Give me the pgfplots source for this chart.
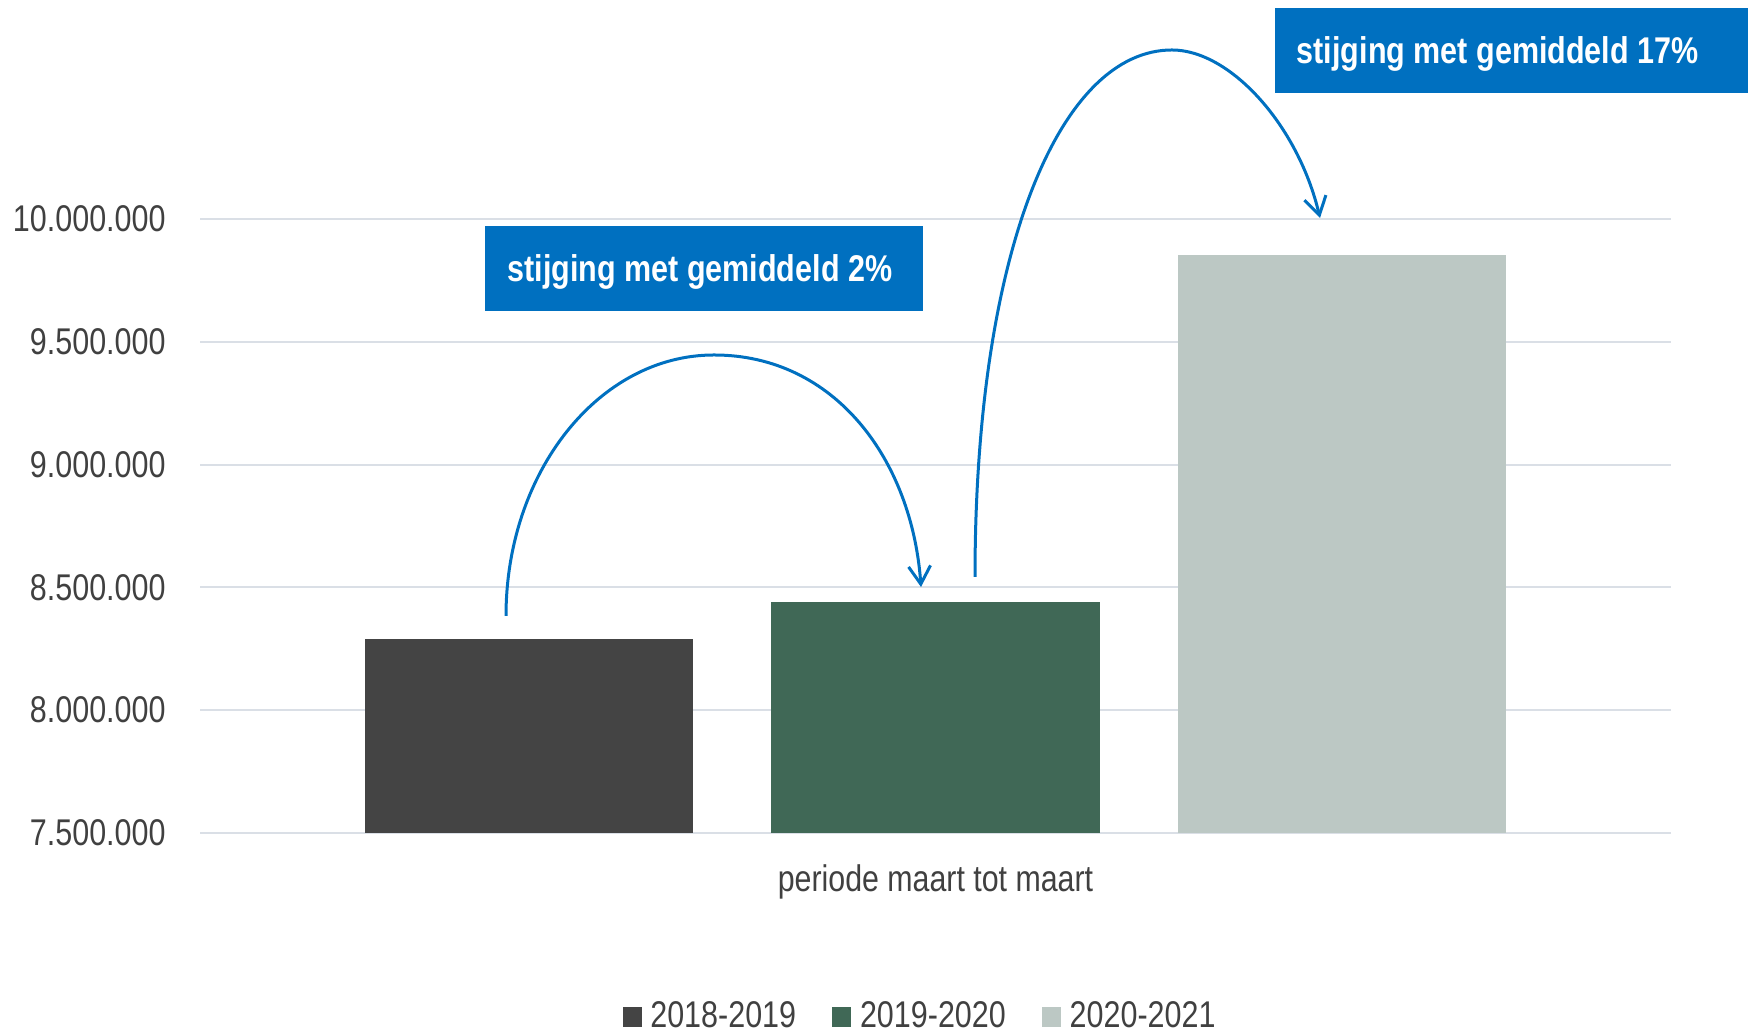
\documentclass[border=0pt]{standalone}
\usepackage{fontspec}
\setmainfont{Liberation Sans}[FakeStretch=0.82]
\usepackage{pgfplots}
\pgfplotsset{compat=1.18}
\usetikzlibrary{arrows.meta}
\definecolor{barA}{RGB}{68,68,68}
\definecolor{barB}{RGB}{64,104,86}
\definecolor{barC}{RGB}{188,200,196}
\definecolor{gridc}{RGB}{218,223,230}
\definecolor{txt}{RGB}{64,64,64}
\definecolor{boxblue}{RGB}{0,112,192}
\begin{document}
\begin{tikzpicture}
\useasboundingbox (-50pt,-50.325pt) rectangle (390.5pt,208.175pt);
\begin{axis}[
  at={(0,0)}, anchor=south west,
  width=367.75pt, height=153.4pt, scale only axis,
  xmin=-1.808, xmax=1.808, ymin=7500000, ymax=10000000,
  scaled y ticks=false,
  ybar, bar width=0.807, bar shift=0pt,
  axis line style={draw=none},
  major tick length=0pt,
  ymajorgrids, grid style={gridc, line width=0.5pt},
  ytick={7500000,8000000,8500000,9000000,9500000,10000000},
  yticklabels={7.500.000,8.000.000,8.500.000,9.000.000,9.500.000,10.000.000},
  yticklabel style={font=\fontsize{9.3}{11}\selectfont, text=txt, inner sep=0pt, anchor=east, xshift=-8.4pt},
  xtick={0}, xticklabels={periode maart tot maart},
  xticklabel style={font=\fontsize{9.25}{11}\selectfont, text=txt, inner sep=0pt, anchor=base, yshift=-14.8pt},
  legend columns=3,
  legend style={draw=none, fill=none, at={(0.4888,-0.3004)}, anchor=center,
    font=\fontsize{9.3}{11}\selectfont, text=txt,
    nodes={inner sep=0pt},
    column sep=2.2pt,
    /tikz/every even column/.append style={column sep=9pt}},
  legend image code/.code={\fill[#1,draw=none] (0pt,-2.4pt) rectangle (4.75pt,2.4pt);},
]
\addplot[fill=barA, draw=none] coordinates {(-1,8290000)};
\addplot[fill=barB, draw=none] coordinates {(0,8440000)};
\addplot[fill=barC, draw=none] coordinates {(1,9855000)};
\legend{2018-2019,2019-2020,2020-2021}
\end{axis}
\begin{scope}[shift={(-50pt,208.175pt)}, x=0.25pt, y=-0.25pt]
  \draw[boxblue, line width=0.75pt, -{Straight Barb[length=4.5pt,width=5.5pt]}]
    (506,616) .. controls (506,472) and (599,355) .. (714,355)
    .. controls (835,355) and (912,460) .. (921,587);
  \draw[boxblue, line width=0.75pt, -{Straight Barb[length=4.5pt,width=5.5pt]}]
    (975,577) .. controls (975,250) and (1060,50) .. (1172,50)
    .. controls (1230,50) and (1298,125) .. (1320,218);
  \fill[boxblue] (485,226) rectangle (922.6,311);
  \node[anchor=base west, inner sep=0pt, text=white, font=\fontsize{9.3}{11}\selectfont\bfseries] at (506.7,281.7) {stijging met gemiddeld 2\%};
  \fill[boxblue] (1275,8) rectangle (1748,93.5);
  \node[anchor=base west, inner sep=0pt, text=white, font=\fontsize{9.3}{11}\selectfont\bfseries] at (1296,64) {stijging met gemiddeld 17\%};
\end{scope}
\end{tikzpicture}
\end{document}
